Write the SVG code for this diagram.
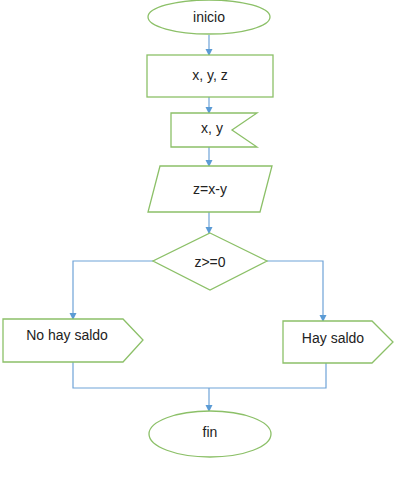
<svg xmlns="http://www.w3.org/2000/svg" width="410" height="483" viewBox="0 0 410 483">
<defs>
<marker id="ah" markerWidth="8" markerHeight="8" refX="6" refY="3.5" orient="auto" markerUnits="userSpaceOnUse">
<path d="M0,0 L7,3.5 L0,7 z" fill="#5b9bd5"/>
</marker>
<style>
.n{fill:#fff;stroke:#8cc068;stroke-width:1.3}
.c{fill:none;stroke:#6fa3d8;stroke-width:1.2}
.t{font-family:"Liberation Sans",Arial,sans-serif;font-size:14px;fill:#222;text-anchor:middle;dominant-baseline:central}
</style>
</defs>
<rect width="410" height="483" fill="#fff"/>
<g id="connectors">
<line class="c" x1="209" y1="35" x2="209" y2="55" marker-end="url(#ah)"/>
<line class="c" x1="209" y1="97" x2="209" y2="113" marker-end="url(#ah)"/>
<line class="c" x1="209" y1="147" x2="209" y2="166" marker-end="url(#ah)"/>
<line class="c" x1="209" y1="212" x2="209" y2="233" marker-end="url(#ah)"/>
<polyline class="c" points="153,261 73,261 73,319" marker-end="url(#ah)"/>
<polyline class="c" points="267,261 323,261 323,321" marker-end="url(#ah)"/>
<polyline class="c" points="73,362 73,388 326,388 326,363"/>
<line class="c" x1="209" y1="388" x2="209" y2="411" marker-end="url(#ah)"/>
</g>
<g id="inicio">
<ellipse class="n" cx="209" cy="17" rx="61" ry="17"/>
<text class="t" x="209" y="17">inicio</text>
</g>
<g id="xyz">
<rect class="n" x="147" y="55" width="126" height="42"/>
<text class="t" x="210" y="75">x, y, z</text>
</g>
<g id="xy">
<path class="n" d="M171,113 L257,113 L232,130 L257,147 L171,147 z"/>
<text class="t" x="212" y="128">x, y</text>
</g>
<g id="calc">
<path class="n" d="M160,166 L272,166 L260,212 L148,212 z"/>
<text class="t" x="210" y="189">z=x-y</text>
</g>
<g id="cond">
<path class="n" d="M210,233 L267,261 L210,290 L153,261 z"/>
<text class="t" x="210" y="262">z&gt;=0</text>
</g>
<g id="nohay">
<path class="n" d="M3,319 L123,319 L143,340 L123,362 L3,362 z"/>
<text class="t" x="67" y="335">No hay saldo</text>
</g>
<g id="hay">
<path class="n" d="M283,321 L372,321 L393,342 L372,363 L283,363 z"/>
<text class="t" x="333" y="338">Hay saldo</text>
</g>
<g id="fin">
<ellipse class="n" cx="210" cy="434" rx="61" ry="23"/>
<text class="t" x="210" y="432">fin</text>
</g>
</svg>
